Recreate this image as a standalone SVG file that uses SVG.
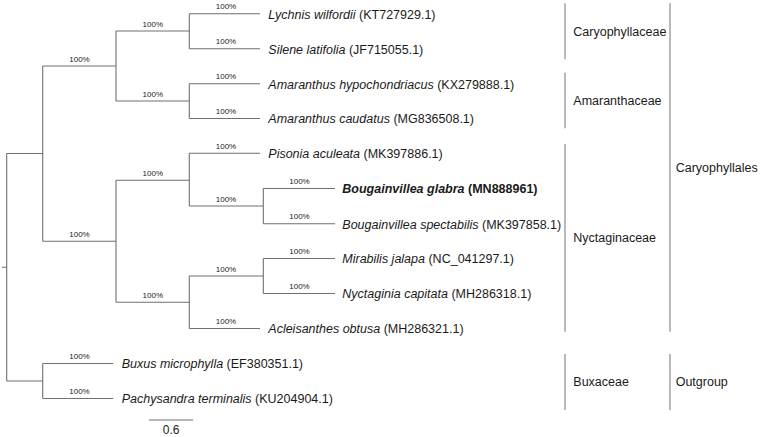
<svg xmlns="http://www.w3.org/2000/svg" width="760" height="437" viewBox="0 0 760 437">
<style>
.br{stroke:#707070;stroke-width:1.1;fill:none}
.bar{stroke:#808080;stroke-width:1.1;fill:none}
.bs{font-family:"Liberation Sans",Arial,sans-serif;font-size:8px;fill:#222;text-anchor:middle}
.lf{font-family:"Liberation Sans",Arial,sans-serif;font-size:12.5px;fill:#1a1a1a}
.lf tspan.i{font-style:italic}
.b{font-weight:bold}
.grp{font-family:"Liberation Sans",Arial,sans-serif;font-size:12.5px;fill:#1a1a1a}
.sc{font-family:"Liberation Sans",Arial,sans-serif;font-size:12px;fill:#1a1a1a;text-anchor:middle}
</style>
<rect width="760" height="437" fill="#fff"/>
<g id="connectors">
<path class="br" d="M2,267.3H6.7M6.7,153.5V381M6.7,153.5H42.7M6.7,381H42.7"/>
<path class="br" d="M42.7,66V241.3M42.7,66H116M42.7,241.3H116"/>
<path class="br" d="M116,31V101M116,31H189.3M116,101H189.3"/>
<path class="br" d="M189.3,13.7V48.7M189.3,13.7H260M189.3,48.7H260"/>
<path class="br" d="M189.3,83.7V118.5M189.3,83.7H260M189.3,118.5H260"/>
<path class="br" d="M116,180.3V302.3M116,180.3H189.3M116,302.3H189.3"/>
<path class="br" d="M189.3,153.3V206M189.3,153.3H260M189.3,206H263.3"/>
<path class="br" d="M263.3,188.5V223.7M263.3,188.5H335M263.3,223.7H335"/>
<path class="br" d="M189.3,276V328.5M189.3,276H263.3M189.3,328.5H260"/>
<path class="br" d="M263.3,258.5V293.5M263.3,258.5H335M263.3,293.5H335"/>
<path class="br" d="M42.7,363.5V398.5M42.7,363.5H113.3M42.7,398.5H113.3"/>
<path class="br" d="M149,420H193.3"/>
</g>
<g id="support">
<text class="bs" x="79.5" y="61.5">100%</text>
<text class="bs" x="152.8" y="26.6">100%</text>
<text class="bs" x="152.8" y="96.6">100%</text>
<text class="bs" x="226" y="9.2">100%</text>
<text class="bs" x="226" y="44.2">100%</text>
<text class="bs" x="226" y="79.2">100%</text>
<text class="bs" x="226" y="114">100%</text>
<text class="bs" x="152.8" y="175.8">100%</text>
<text class="bs" x="226" y="148.8">100%</text>
<text class="bs" x="226" y="201.5">100%</text>
<text class="bs" x="299.5" y="184">100%</text>
<text class="bs" x="299.5" y="219.2">100%</text>
<text class="bs" x="79.5" y="236.8">100%</text>
<text class="bs" x="152.8" y="297.8">100%</text>
<text class="bs" x="226" y="271.5">100%</text>
<text class="bs" x="299.5" y="254">100%</text>
<text class="bs" x="299.5" y="289">100%</text>
<text class="bs" x="226" y="324">100%</text>
<text class="bs" x="79.5" y="359">100%</text>
<text class="bs" x="79.5" y="394">100%</text>
</g>
<g id="leaf-lychnis"><text class="lf" x="268.3" y="18.5"><tspan class="i">Lychnis wilfordii</tspan> (KT727929.1)</text></g>
<g id="leaf-silene"><text class="lf" x="268.3" y="53.5"><tspan class="i">Silene latifolia</tspan> (JF715055.1)</text></g>
<g id="leaf-amhyp"><text class="lf" x="268.3" y="88.5"><tspan class="i">Amaranthus hypochondriacus</tspan> (KX279888.1)</text></g>
<g id="leaf-amcau"><text class="lf" x="268.3" y="123.3"><tspan class="i">Amaranthus caudatus</tspan> (MG836508.1)</text></g>
<g id="leaf-pisonia"><text class="lf" x="268.3" y="158.1"><tspan class="i">Pisonia aculeata</tspan> (MK397886.1)</text></g>
<g id="leaf-bglabra"><text class="lf b" x="342.3" y="193.2"><tspan class="i">Bougainvillea glabra</tspan> (MN888961)</text></g>
<g id="leaf-bspect"><text class="lf" x="342.3" y="228.5"><tspan class="i">Bougainvillea spectabilis</tspan> (MK397858.1)</text></g>
<g id="leaf-mirabilis"><text class="lf" x="342.3" y="263.2"><tspan class="i">Mirabilis jalapa</tspan> (NC_041297.1)</text></g>
<g id="leaf-nyctaginia"><text class="lf" x="342.3" y="298.2"><tspan class="i">Nyctaginia capitata</tspan> (MH286318.1)</text></g>
<g id="leaf-acleisanthes"><text class="lf" x="268.3" y="333.2"><tspan class="i">Acleisanthes obtusa</tspan> (MH286321.1)</text></g>
<g id="leaf-buxus"><text class="lf" x="121.7" y="368.2"><tspan class="i">Buxus microphylla</tspan> (EF380351.1)</text></g>
<g id="leaf-pachysandra"><text class="lf" x="121.7" y="403.2"><tspan class="i">Pachysandra terminalis</tspan> (KU204904.1)</text></g>
<g id="scale"><text class="sc" x="171.2" y="433.5">0.6</text></g>
<g id="grp-caryophyllaceae"><path class="bar" d="M565,3.3V59.3"/><text class="grp" x="573.3" y="35.8">Caryophyllaceae</text></g>
<g id="grp-amaranthaceae"><path class="bar" d="M565,72.7V128.3"/><text class="grp" x="573.3" y="105">Amaranthaceae</text></g>
<g id="grp-nyctaginaceae"><path class="bar" d="M565,144V331.7"/><text class="grp" x="573.3" y="242">Nyctaginaceae</text></g>
<g id="grp-buxaceae"><path class="bar" d="M565,354V410"/><text class="grp" x="573.3" y="386.3">Buxaceae</text></g>
<g id="grp-caryophyllales"><path class="bar" d="M670,3.3V331.7"/><text class="grp" x="675.7" y="172.2">Caryophyllales</text></g>
<g id="grp-outgroup"><path class="bar" d="M670,354V410"/><text class="grp" x="675.7" y="386.3">Outgroup</text></g>
</svg>
